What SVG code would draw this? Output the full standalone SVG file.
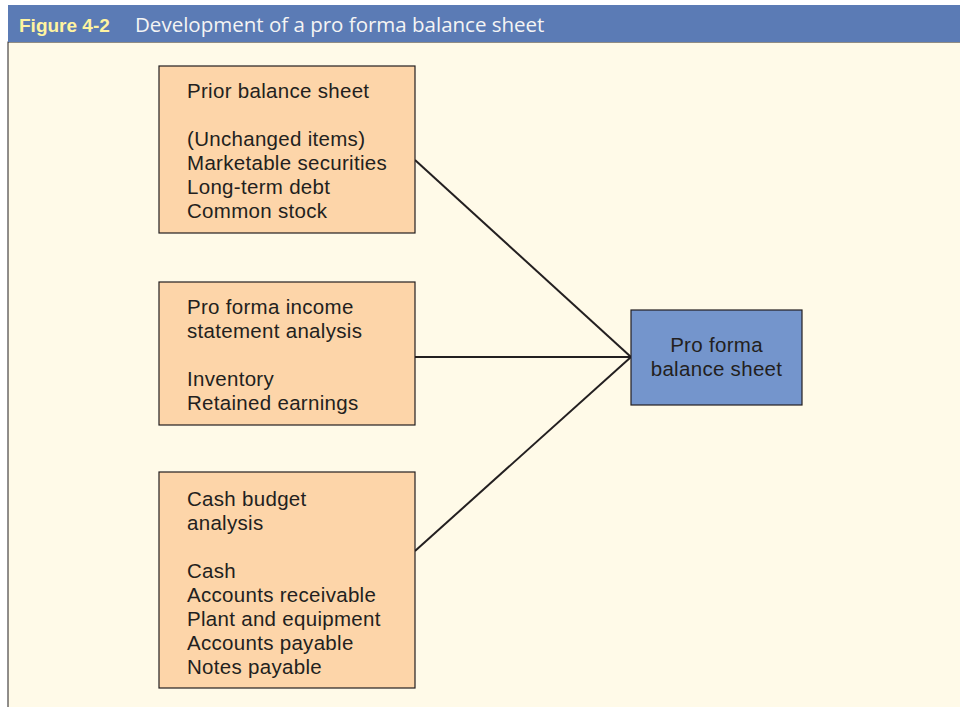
<svg xmlns="http://www.w3.org/2000/svg" width="960" height="707" viewBox="0 0 960 707">
<style>
.t{font-family:"Liberation Sans",Arial,sans-serif;font-size:20.5px;letter-spacing:0.3px;fill:#231F20}
.src{fill:#FDD5A9;stroke:#231F20;stroke-width:1.2}
.dst{fill:#7495CC;stroke:#231F20;stroke-width:1.2}
.c{stroke:#231F20;stroke-width:2;fill:none}
</style>
<rect x="0" y="0" width="960" height="707" fill="#FFFFFF"/>
<rect x="8" y="42" width="960" height="680" fill="#FFFAE8" stroke="#231F20" stroke-width="1"/>
<rect x="8" y="5" width="952" height="37" fill="#5B7BB5"/>
<text x="19" y="32" style="font-family:'Liberation Sans',Arial,sans-serif;font-size:19px;font-weight:bold;fill:#FFF3A0">Figure 4-2</text>
<text x="135" y="32" style="font-family:'Open Sans','Liberation Sans',Arial,sans-serif;font-size:20.5px;fill:#F4F4F4">Development of a pro forma balance sheet</text>
<g id="connectors">
<line class="c" x1="415" y1="160" x2="631" y2="357"/>
<line class="c" x1="415" y1="357" x2="631" y2="357"/>
<line class="c" x1="415" y1="551" x2="631" y2="357"/>
</g>
<g id="prior">
<rect class="src" x="159" y="66" width="256" height="167"/>
<text class="t" x="187" y="98">Prior balance sheet</text>
<text class="t" x="187" y="146">(Unchanged items)</text>
<text class="t" x="187" y="170">Marketable securities</text>
<text class="t" x="187" y="194">Long-term debt</text>
<text class="t" x="187" y="218">Common stock</text>
</g>
<g id="income">
<rect class="src" x="159" y="282" width="256" height="143"/>
<text class="t" x="187" y="314">Pro forma income</text>
<text class="t" x="187" y="338">statement analysis</text>
<text class="t" x="187" y="386">Inventory</text>
<text class="t" x="187" y="410">Retained earnings</text>
</g>
<g id="cash">
<rect class="src" x="159" y="472" width="256" height="216"/>
<text class="t" x="187" y="506">Cash budget</text>
<text class="t" x="187" y="530">analysis</text>
<text class="t" x="187" y="578">Cash</text>
<text class="t" x="187" y="602">Accounts receivable</text>
<text class="t" x="187" y="626">Plant and equipment</text>
<text class="t" x="187" y="650">Accounts payable</text>
<text class="t" x="187" y="674">Notes payable</text>
</g>
<g id="proforma">
<rect class="dst" x="631" y="310" width="171" height="95"/>
<text class="t" x="716.5" y="352" text-anchor="middle">Pro forma</text>
<text class="t" x="716.5" y="376" text-anchor="middle">balance sheet</text>
</g>
</svg>
